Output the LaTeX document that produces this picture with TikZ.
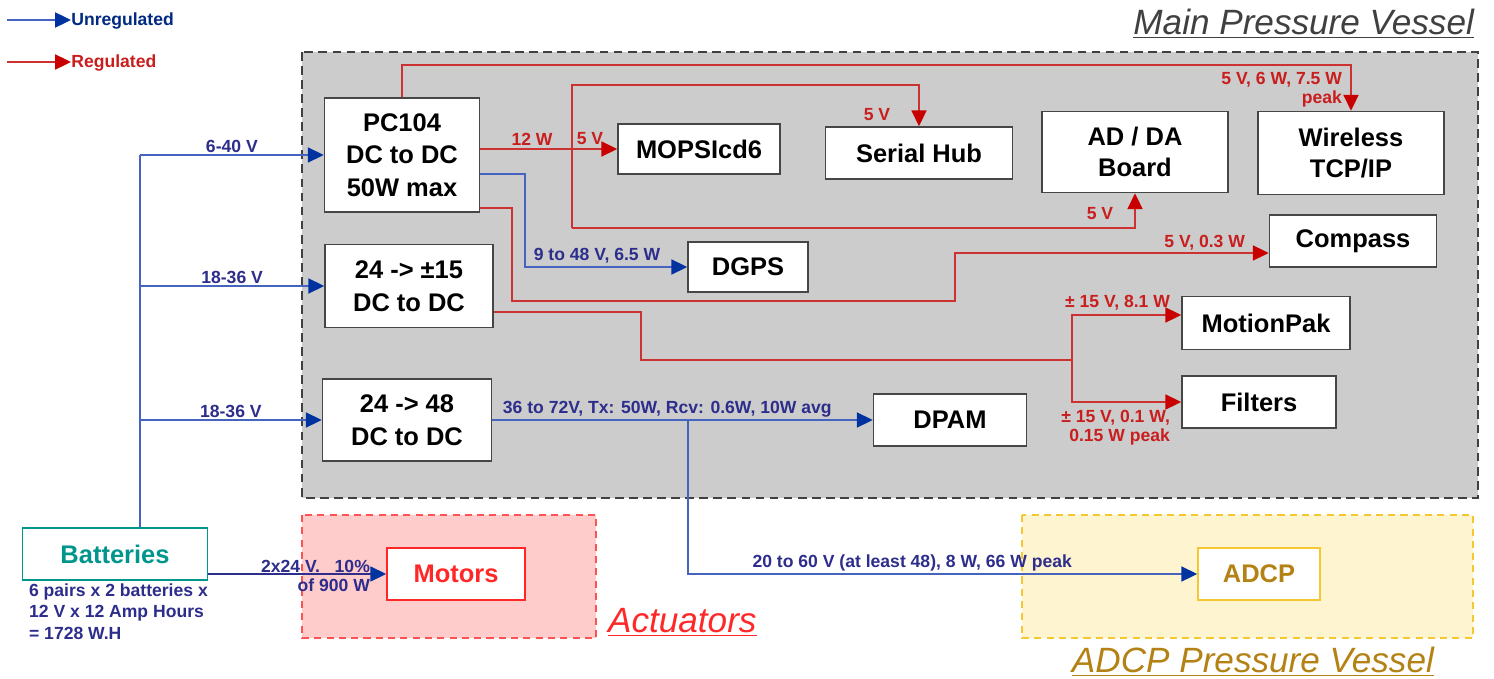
\documentclass[tikz,border=0pt]{standalone}
\usepackage{fontspec}
\setmainfont{Liberation Sans}
\usepackage{xcolor}
\usepackage{tikz}
\usetikzlibrary{arrows.meta, calc}

\definecolor{VesselGray}{RGB}{204,204,204}
\definecolor{BoxGray}{RGB}{70,70,70}
\definecolor{LineBlue}{RGB}{70,100,190}
\definecolor{TipBlue}{RGB}{0,51,160}
\definecolor{LabelNavy}{RGB}{45,45,140}
\definecolor{LineRed}{RGB}{205,50,50}
\definecolor{TipRed}{RGB}{200,0,0}
\definecolor{LabelRed}{RGB}{200,30,30}
\definecolor{ActPink}{RGB}{255,204,204}
\definecolor{ActRed}{RGB}{255,40,40}
\definecolor{AdcpCream}{RGB}{255,244,208}
\definecolor{AdcpGold}{RGB}{245,200,50}
\definecolor{AdcpBrown}{RGB}{180,130,20}
\definecolor{BattTeal}{RGB}{0,150,140}

\begin{document}
\begin{tikzpicture}[x=0.02cm, y=-0.02cm,
            unit/.style={draw=BoxGray, fill=white, line width=0.9pt, align=center, inner sep=0pt, font=\bfseries\fontsize{14.5}{18}\selectfont},
            unreg/.style={draw=LineBlue, line width=1.1pt, -{Triangle[length=9pt, width=8.5pt, color=TipBlue]}},
            unregline/.style={draw=LineBlue, line width=1.1pt},
            reg/.style={draw=LineRed, line width=1.1pt, -{Triangle[length=9pt, width=8.5pt, color=TipRed]}},
            regline/.style={draw=LineRed, line width=1.1pt},
            ulabel/.style={font=\bfseries\fontsize{10}{11}\selectfont, text=LabelNavy, inner sep=1pt},
            rlabel/.style={font=\bfseries\fontsize{10}{11}\selectfont, text=LabelRed, inner sep=1pt},
            vesselname/.style={font=\itshape\fontsize{20}{24}\selectfont, inner sep=1pt}
        ]
        \useasboundingbox (0,0) rectangle (1494,679);

        % Vessels
        \draw[draw=black!75, fill=VesselGray, line width=1.2pt, dash pattern=on 5pt off 3pt] (302,52) rectangle (1478,498);
        \draw[draw=ActRed!80, fill=ActPink, line width=1pt, dash pattern=on 4pt off 3pt] (302,515) rectangle (596,638);
        \draw[draw=AdcpGold, fill=AdcpCream, line width=1pt, dash pattern=on 4pt off 3pt] (1022,515) rectangle (1473,638);
        \node[vesselname, text=black!75, anchor=east] (mpvname) at (1476,24) {\underline{Main Pressure Vessel}};
        \node[vesselname, text=ActRed, anchor=west] (actname) at (606,622) {\underline{Actuators}};
        \node[vesselname, text=AdcpBrown, anchor=east] (adcpname) at (1436,662) {\underline{ADCP Pressure Vessel}};

        % Legend
        \coordinate (unregstart) at (7,20);
        \node[ulabel, text=TipBlue!80!black, anchor=west, inner sep=0pt] (unreglbl) at (71,21) {Unregulated};
        \draw[unreg] (unregstart) -- (unregstart -| unreglbl.west);
        \coordinate (regstart) at (7,62);
        \node[rlabel, anchor=west, inner sep=0pt] (reglbl) at (71,63) {Regulated};
        \draw[reg] (regstart) -- (regstart -| reglbl.west);

        % Converters
        \node[unit, minimum width=3.1cm, minimum height=2.28cm, font=\bfseries\fontsize{14.5}{18.5}\selectfont] (pc104) at (402,155) {PC104\\DC to DC\\50W max};
        \node[unit, minimum width=3.36cm, minimum height=1.66cm, font=\bfseries\fontsize{14.5}{19}\selectfont] (dcpm) at (409,286) {24 -> ±15\\DC to DC};
        \node[unit, minimum width=3.38cm, minimum height=1.64cm, font=\bfseries\fontsize{14.5}{19}\selectfont] (dc48) at (407,420) {24 -> 48\\DC to DC};

        % Loads in the main vessel
        \node[unit, minimum width=3.24cm, minimum height=1.0cm] (mops) at (699,149) {MOPSIcd6};
        \node[unit, minimum width=3.74cm, minimum height=1.04cm] (hub) at (919,153) {Serial Hub};
        \node[unit, minimum width=3.72cm, minimum height=1.62cm] (adda) at (1135,152) {AD / DA\\Board};
        \node[unit, minimum width=3.72cm, minimum height=1.66cm] (wireless) at (1351,153) {Wireless\\TCP/IP};
        \node[unit, minimum width=3.34cm, minimum height=1.04cm] (compass) at (1353,241) {Compass};
        \node[unit, minimum width=2.4cm, minimum height=1.0cm] (dgps) at (748,267) {DGPS};
        \node[unit, minimum width=3.36cm, minimum height=1.06cm] (motionpak) at (1266,323) {MotionPak};
        \node[unit, minimum width=3.08cm, minimum height=1.04cm] (filters) at (1259,402) {Filters};
        \node[unit, minimum width=3.06cm, minimum height=1.04cm] (dpam) at (950,420) {DPAM};

        % Outside the main vessel
        \node[unit, draw=BattTeal, text=BattTeal, minimum width=3.7cm, minimum height=1.04cm] (batt) at (115,554) {Batteries};
        \node[ulabel, anchor=north west, align=left, font=\bfseries\fontsize{10}{12}\selectfont] (battnote) at (27,582) {6 pairs x 2 batteries x\\12 V x 12 Amp Hours\\= 1728 W.H};
        \node[unit, draw=ActRed, text=ActRed, minimum width=2.76cm, minimum height=1.04cm] (motors) at (456,574) {Motors};
        \node[unit, draw=AdcpGold, text=AdcpBrown, minimum width=2.44cm, minimum height=1.04cm] (adcp) at (1259,574) {ADCP};

        % Unregulated supply
        \coordinate (bustop) at (140,155);
        \draw[unregline] (batt.north -| bustop) -- (bustop);
        \draw[unreg] (bustop) -- (pc104.west) node[ulabel, midway, above] {6-40 V};
        \draw[unreg] (bustop |- dcpm.west) -- (dcpm.west) node[ulabel, midway, above] {18-36 V};
        \draw[unreg] (bustop |- dc48.west) -- (dc48.west) node[ulabel, midway, above] {18-36 V};
        \draw[unreg, draw=LabelNavy] (batt.east |- motors.west) -- (motors.west);
        \node[ulabel, align=right, anchor=east] (motorlbl) at (372,576) {2x24 V.\ \ \ 10\%\\of 900 W};
        \draw[unreg] ($(pc104.east)+(0,19)$) -- ++(45,0) |- (dgps.west);
        \node[ulabel] (dgpslbl) at (597,256) {9 to 48 V, 6.5 W};
        \draw[unreg] (dc48.east) -- (dpam.west) node[ulabel, pos=0.46, above] {36 to 72V, Tx: 50W, Rcv: 0.6W, 10W avg};
        \coordinate (adcpsplit) at ($(dc48.east)+(196,0)$);
        \draw[unreg] (adcpsplit) |- (adcp.west) node[ulabel, pos=0.72, above] {20 to 60 V (at least 48), 8 W, 66 W peak};

        % Regulated supply
        \draw[reg] (pc104.north) |- ($(wireless.north)+(0,-46)$) -- (wireless.north);
        \node[rlabel, anchor=east, align=right] (wirelesslbl) at (1344,90) {5 V, 6 W, 7.5 W\\peak};
        \draw[reg] (pc104.east |- mops.west) -- (mops.west);
        \node[rlabel] (mops12) at (532,139) {12 W};
        \node[rlabel] (mops5) at (590,139) {5 V};
        \coordinate (loopt) at (572,85);
        \coordinate (loopb) at (572,228);
        \draw[reg] (loopb) -- (loopt) -| (hub.north);
        \node[rlabel] (hublbl) at (877,115) {5 V};
        \draw[reg] (loopb) -| (adda.south);
        \node[rlabel] (addalbl) at (1100,214) {5 V};
        \draw[reg] ($(pc104.south east)+(0,-5)$) -| ++(32,93) -| ($(compass.west)+(-314,12)$) -- ($(compass.west)+(0,12)$);
        \node[rlabel, anchor=east] (compasslbl) at (1247,243) {5 V, 0.3 W};
        \coordinate (pmsplit) at (1072,360);
        \draw[regline] ($(dcpm.east)+(0,26)$) -| ++(147,48) -- (pmsplit);
        \draw[reg] (pmsplit) |- ($(motionpak.west)+(0,-8)$);
        \draw[reg] (pmsplit) |- (filters.west);
        \node[rlabel, anchor=east] (motionlbl) at (1172,303) {± 15 V, 8.1 W};
        \node[rlabel, align=right, anchor=east] (filterlbl) at (1172,428) {± 15 V, 0.1 W,\\0.15 W peak};

\end{tikzpicture}
\end{document}
